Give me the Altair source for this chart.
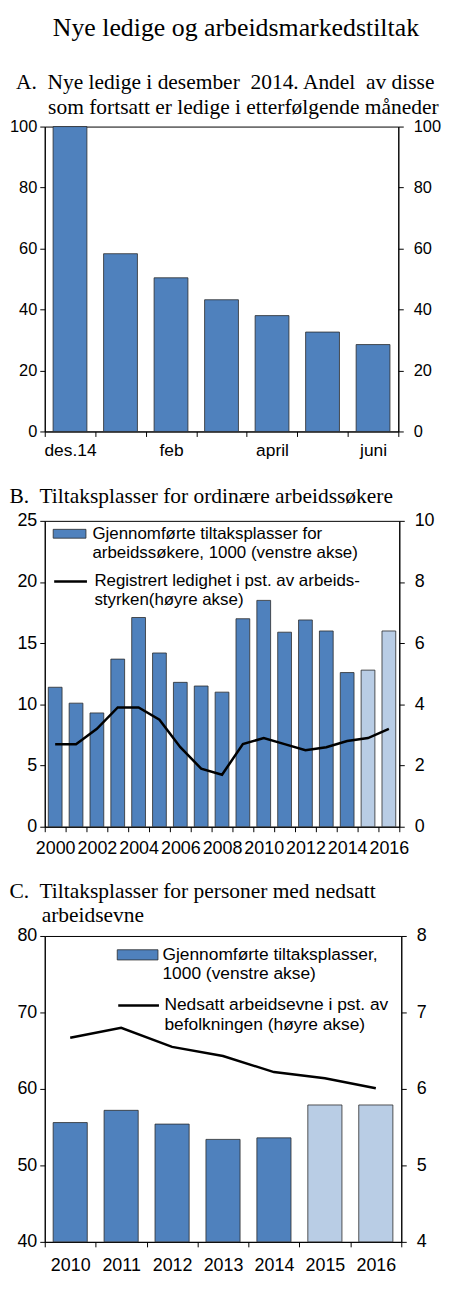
import json
import altair as alt
import pandas as pd

SANS = "Liberation Sans"
SERIF = "Liberation Serif"
DARK = "#4F81BD"
LIGHT = "#B9CDE5"
EDGE = "#2b2b2b"
NB = "\u00a0"
ZW = "\u200b"

# ---------------- Panel A ----------------
a_months = ["des.14", "jan", "feb", "mars", "april", "mai", "juni"]
a_values = [100.0, 58.3, 50.4, 43.2, 38.0, 32.6, 28.5]
a_shown = ["des.14", "feb", "april", "juni"]
a_ticks = [0, 20, 40, 60, 80, 100]

# ---------------- Panel B ----------------
b_years = [str(y) for y in range(2000, 2017)]
b_tiltak = [11.4, 10.1, 9.3, 13.7, 17.1, 14.2, 11.8, 11.5, 11.0, 17.0,
            18.5, 15.9, 16.9, 16.0, 12.6, 12.8, 16.0]
b_ledighet = [2.7, 2.7, 3.2, 3.9, 3.9, 3.5, 2.6, 1.9, 1.7, 2.7,
              2.9, 2.7, 2.5, 2.6, 2.8, 2.9, 3.2]
b_anslag = [False] * 15 + [True] * 2
b_left_ticks = [0, 5, 10, 15, 20, 25]
b_right_ticks = [0, 2, 4, 6, 8, 10]
B_BAR = "Gjennomførte tiltaksplasser for|arbeidssøkere, 1000 (venstre akse)"
B_LINE = "Registrert ledighet i pst. av arbeids-|styrken(høyre akse)"

# ---------------- Panel C ----------------
c_years = [str(y) for y in range(2010, 2017)]
c_tiltak = [55.6, 57.2, 55.4, 53.4, 53.6, 57.9, 57.9]
c_nedsatt = [6.67, 6.80, 6.55, 6.43, 6.22, 6.14, 6.01]
c_anslag = [False] * 5 + [True] * 2
c_left_ticks = [40, 50, 60, 70, 80]
c_right_ticks = [4, 5, 6, 7, 8]
C_BAR = "Gjennomførte tiltaksplasser,|1000 (venstre akse)"
C_LINE = "Nedsatt arbeidsevne i pst. av|befolkningen (høyre akse)"

ANSLAG = "anslag"


def sub_title(lines, dx, offset):
    return alt.TitleParams(text=lines, anchor="start", frame="group", dx=dx,
                           offset=offset, font=SERIF, fontSize=21.6,
                           fontWeight="normal", color="black", lineHeight=25)


def xband(field, order, fs, label_expr=None, pad=7, spacer=False):
    kw = dict(tickBand="extent", labelAngle=0, labelPadding=pad,
              labelFontSize=fs, labelOverlap=False)
    if spacer:
        kw.update(title=NB, titleFontSize=2, titlePadding=3)
    else:
        kw["title"] = None
    if label_expr:
        kw["labelExpr"] = label_expr
    return alt.X(field, sort=order,
                 scale=alt.Scale(paddingInner=0, paddingOuter=0),
                 axis=alt.Axis(**kw))


def yaxis(orient, values, fs):
    return alt.Axis(orient=orient, values=values, title=None, labelFontSize=fs,
                    labelPadding=3 if orient == "left" else 10)


def bar_legend(values, x, y, sym, size, fs, off):
    return alt.Legend(orient="none", legendX=x, legendY=y, title=None,
                      values=values, labelExpr="split(datum.label, '|')",
                      symbolType=sym, symbolSize=size,
                      symbolStrokeColor=EDGE, symbolStrokeWidth=0.8,
                      labelFont=SANS, labelFontSize=fs, labelColor="black",
                      labelOffset=off, labelLimit=0, padding=0)


def line_legend(x, y, sym, size, fs, off):
    return alt.Legend(orient="none", legendX=x, legendY=y, title=None,
                      labelExpr="split(datum.label, '|')",
                      symbolType=sym, symbolSize=size,
                      symbolStrokeWidth=2.5, symbolFillColor="transparent",
                      labelFont=SANS, labelFontSize=fs, labelColor="black",
                      labelOffset=off, labelLimit=0, padding=0)


# ---------- A ----------
dfA = pd.DataFrame({"mnd": a_months, "andel": a_values})
exprA = "indexof(" + json.dumps(a_shown) + ", datum.value) >= 0 ? datum.label : ''"
xA = xband("mnd:N", a_months, 17.5, exprA, pad=5, spacer=True)
scA = alt.Scale(domain=[0, 100])
barsA = alt.Chart(dfA).mark_bar(
    fill=DARK, stroke=EDGE, strokeWidth=0.8, width=alt.RelativeBandSize(0.67)
).encode(
    x=xA,
    y=alt.Y("andel:Q", scale=scA, axis=yaxis("left", a_ticks, 16.5)),
)
rightA = alt.Chart(dfA).mark_bar(opacity=0, width=alt.RelativeBandSize(0.67)).encode(
    x=xA,
    y=alt.Y("andel:Q", scale=scA, axis=yaxis("right", a_ticks, 16.5)),
)
chartA = alt.layer(barsA, rightA).resolve_axis(y="independent").properties(
    width=356, height=307,
    title=sub_title(["A." + NB + " Nye ledige i desember" + NB + " 2014. Andel" + NB + " av disse",
                     ZW + NB * 6 + "som fortsatt er ledige i etterfølgende måneder"], -29, 0),
)

# ---------- B ----------
dfB = pd.DataFrame({
    "aar": b_years, "tiltak": b_tiltak, "ledighet": b_ledighet,
    "type": [ANSLAG if a else B_BAR for a in b_anslag],
    "serie": [B_LINE] * len(b_years),
})
exprB = "parseInt(datum.value) % 2 == 0 ? datum.label : ''"
xB = xband("aar:N", b_years, 18, exprB, pad=8)
barsB = alt.Chart(dfB).mark_bar(
    stroke=EDGE, strokeWidth=0.8, width=alt.RelativeBandSize(0.66)
).encode(
    x=xB,
    y=alt.Y("tiltak:Q", scale=alt.Scale(domain=[0, 25]), axis=yaxis("left", b_left_ticks, 18)),
    fill=alt.Fill("type:N", scale=alt.Scale(domain=[B_BAR, ANSLAG], range=[DARK, LIGHT]),
                  legend=bar_legend([B_BAR], 8, -4, "M-1,-0.27H1V0.27H-1Z", 1089, 17, 6)),
)
lineB = alt.Chart(dfB).mark_line(strokeWidth=2.5).encode(
    x=xB,
    y=alt.Y("ledighet:Q", scale=alt.Scale(domain=[0, 10]), axis=yaxis("right", b_right_ticks, 18)),
    stroke=alt.Stroke("serie:N", scale=alt.Scale(domain=[B_LINE], range=["black"]),
                      legend=line_legend(8, 43, "M-1,0H1", 1089, 17, 6)),
)
chartB = alt.layer(barsB, lineB).resolve_scale(y="independent").properties(
    width=357, height=308,
    title=sub_title(["B." + NB + " Tiltaksplasser for ordinære arbeidssøkere"], -35.5, 4),
)

# ---------- C ----------
dfC = pd.DataFrame({
    "aar": c_years, "tiltak": c_tiltak, "nedsatt": c_nedsatt,
    "type": [ANSLAG if a else C_BAR for a in c_anslag],
    "serie": [C_LINE] * len(c_years),
})
xC = xband("aar:N", c_years, 18, pad=10)
barsC = alt.Chart(dfC).mark_bar(
    stroke=EDGE, strokeWidth=0.8, width=alt.RelativeBandSize(0.67)
).encode(
    x=xC,
    y=alt.Y("tiltak:Q", scale=alt.Scale(domain=[40, 80], zero=False),
            axis=yaxis("left", c_left_ticks, 18)),
    y2=alt.datum(c_left_ticks[0]),
    fill=alt.Fill("type:N", scale=alt.Scale(domain=[C_BAR, ANSLAG], range=[DARK, LIGHT]),
                  legend=bar_legend([C_BAR], 72.5, -2, "M-1,-0.25H1V0.25H-1Z", 1681, 17.5, 4)),
)
lineC = alt.Chart(dfC).mark_line(strokeWidth=2.5).encode(
    x=xC,
    y=alt.Y("nedsatt:Q", scale=alt.Scale(domain=[4, 8], zero=False),
            axis=yaxis("right", c_right_ticks, 18)),
    stroke=alt.Stroke("serie:N", scale=alt.Scale(domain=[C_LINE], range=["black"]),
                      legend=line_legend(72.5, 48, "M-1,0H1", 1681, 17.5, 4)),
)
chartC = alt.layer(barsC, lineC).resolve_scale(y="independent").properties(
    width=359, height=308,
    title=sub_title(["C." + NB + " Tiltaksplasser for personer med nedsatt",
                     ZW + NB * 6 + "arbeidsevne"], -35.5, 0),
)

chart = alt.vconcat(chartA, chartB, chartC, spacing=21).resolve_scale(
    fill="independent", stroke="independent"
).resolve_legend(fill="independent", stroke="independent").properties(
    title=alt.TitleParams(text="Nye ledige og arbeidsmarkedstiltak", anchor="middle",
                          font=SERIF, fontSize=26, fontWeight="normal", color="black",
                          offset=31, dx=11),
    padding={"left": 0, "top": 2, "right": 0, "bottom": 0},
).configure_view(
    stroke="black", strokeWidth=1
).configure_axis(
    labelFont=SANS, labelColor="black", domainColor="black",
    tickColor="black", tickSize=5, grid=False, domainWidth=1, tickWidth=1,
)

chart.save("out.html", embed_options={"renderer": "svg", "actions": False})
